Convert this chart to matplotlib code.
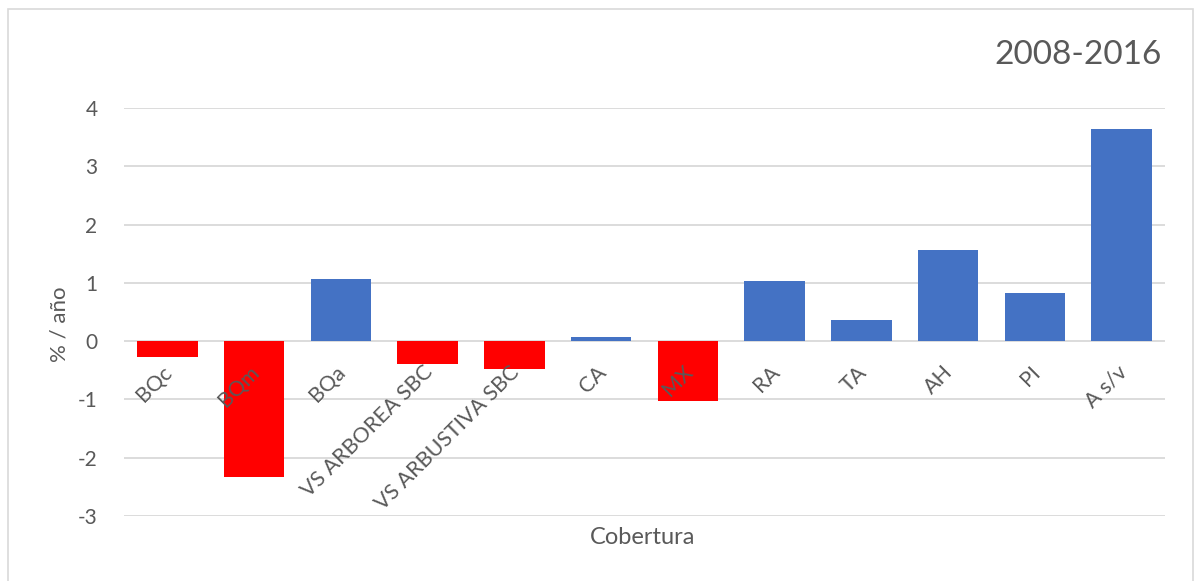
import matplotlib
matplotlib.use("Agg")
import matplotlib.pyplot as plt
from matplotlib.patches import Rectangle

# Tasa de cambio anual por tipo de cobertura, 2008-2016
coberturas = ['BQc', 'BQm', 'BQa', 'VS ARBOREA SBC', 'VS ARBUSTIVA SBC', 'CA',
              'MX', 'RA', 'TA', 'AH', 'PI', 'A s/v']
tasas = [-0.28, -2.33, 1.06, -0.40, -0.48, 0.07, -1.02, 1.03, 0.36, 1.56, 0.82, 3.64]
y_ticks = [-3, -2, -1, 0, 1, 2, 3, 4]
periodo = '2008-2016'

AZUL = '#4472C4'
ROJO = '#FF0000'
GRIS_TXT = '#595959'
GRIS_LINEA = '#D9D9D9'

plt.rcParams['font.family'] = ['Lato', 'DejaVu Sans']

fig = plt.figure(figsize=(11.95, 5.81), dpi=100)
ax = fig.add_axes([124 / 1195, 1 - 516 / 581, (1165 - 124) / 1195, 408 / 581])

# borde del área del gráfico
fig.patches.append(Rectangle((8 / 1195, -0.05), 1185 / 1195, 1 - 9 / 581 + 0.05,
                             transform=fig.transFigure, fill=False,
                             edgecolor=GRIS_LINEA, linewidth=1.2))

x = list(range(len(coberturas)))
colores = [ROJO if v < 0 else AZUL for v in tasas]
ax.bar(x, tasas, width=0.7, color=colores, zorder=3)

ax.set_xlim(-0.5, len(coberturas) - 0.5)
ax.set_ylim(-3, 4)
ax.set_yticks(y_ticks)
ax.set_yticklabels([str(t) for t in y_ticks])
ax.yaxis.grid(True, color=GRIS_LINEA, linewidth=1.3, zorder=0)
ax.set_axisbelow(True)
for s in ax.spines.values():
    s.set_visible(False)
ax.tick_params(axis='y', length=0, pad=19, labelsize=15, labelcolor=GRIS_TXT)
ax.set_xticks([])

# etiquetas de categoría junto al eje cero
for i, nombre in enumerate(coberturas):
    ax.text(i - 0.06, -0.36, nombre, rotation=45, rotation_mode='anchor',
            ha='right', va='top', fontsize=15.5, color=GRIS_TXT, zorder=4)

ax.set_ylabel('% / año', fontsize=16, color=GRIS_TXT)
ax.yaxis.set_label_coords(-54 / 1041, 0.47)
fig.text(643 / 1195, 1 - 538 / 581, 'Cobertura', ha='center', va='center',
         fontsize=17, color=GRIS_TXT)
fig.text(1162 / 1195, 1 - 55 / 581, periodo, ha='right', va='center',
         fontsize=24, color=GRIS_TXT)

fig.savefig('out.png', dpi=100, facecolor='white')
